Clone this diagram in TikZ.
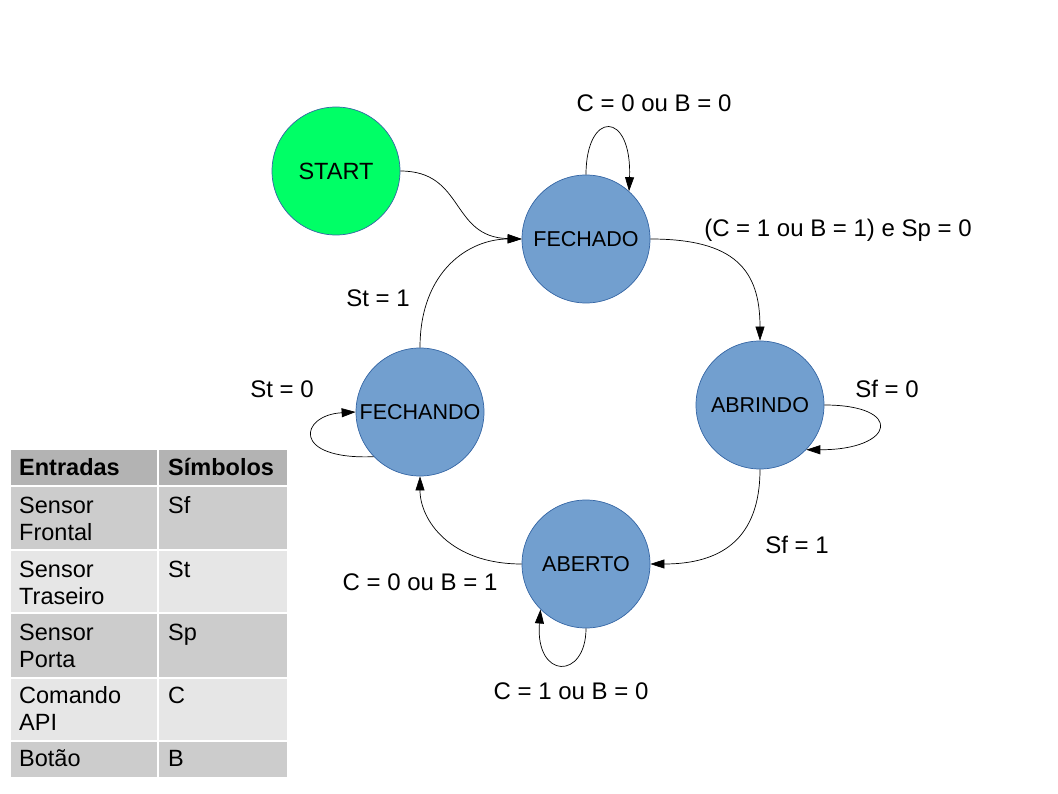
\documentclass[tikz,border=0pt]{standalone}
\usepackage{fontspec}
\setmainfont{Liberation Sans}
\usetikzlibrary{arrows.meta}
\definecolor{stategreen}{HTML}{00FF66}
\definecolor{stateblue}{HTML}{729FCF}
\definecolor{stateborder}{HTML}{3465A4}
\definecolor{thead}{HTML}{B3B3B3}
\definecolor{tdark}{HTML}{CCCCCC}
\definecolor{tlight}{HTML}{E6E6E6}
\tikzset{
  state/.style={circle, minimum size=128pt, inner sep=0pt, draw=stateborder, line width=0.7pt, fill=stateblue, font=\fontsize{21.5}{25}\selectfont},
  startstate/.style={state, fill=stategreen, font=\fontsize{23.5}{27}\selectfont},
  edge/.style={line width=0.7pt, -{Triangle[length=14pt,width=9pt]}},
  lbl/.style={font=\fontsize{24}{28}\selectfont, inner sep=0pt},
  ctext/.style={anchor=base west, inner sep=0pt, align=left, font=\fontsize{23.5}{27}\selectfont},
}
\begin{document}
\begin{tikzpicture}[x=1pt, y=-1pt]
\useasboundingbox (0,0) rectangle (1058,794);
% states
\node[startstate] (start) at (336,171) {START};
\node[state] (fechado) at (586,239) {FECHADO};
\node[state] (abrindo) at (760,405) {ABRINDO};
\node[state] (aberto) at (586,564) {ABERTO};
\node[state] (fechando) at (420,412) {FECHANDO};
% transitions
\draw[edge] (start.east) .. controls (465,171) and (450,237) .. (fechado.west);
\draw[edge] (fechado.90) .. controls (586,110) and (632,110) .. (fechado.48);
\draw[edge] (fechado.east) .. controls (735,239) and (760,270) .. (abrindo.north);
\draw[edge] (abrindo.east) .. controls (905,405) and (895,450) .. (abrindo.-44);
\draw[edge] (abrindo.south) .. controls (760,540) and (720,564) .. (aberto.east);
\draw[edge] (aberto.west) .. controls (450,564) and (420,520) .. (fechando.south);
\draw[edge] (aberto.-90) .. controls (586,680) and (535,680) .. (aberto.-135);
\draw[edge] (fechando.-136) .. controls (290,460) and (300,415) .. (fechando.west);
\draw[edge] (fechando.north) .. controls (420,270) and (470,239) .. (fechado.west);
% labels
\node[lbl] (l1) at (654,103) {C = 0 ou B = 0};
\node[lbl] (l2) at (838,230) {(C = 1 ou B = 1) e Sp = 0};
\node[lbl] (l3) at (887,389) {Sf = 0};
\node[lbl] (l4) at (797,545) {Sf = 1};
\node[lbl] (l5) at (420,582) {C = 0 ou B = 1};
\node[lbl] (l6) at (571,691) {C = 1 ou B = 0};
\node[lbl] (l7) at (282,389) {St = 0};
\node[lbl] (l8) at (378,298) {St = 1};
% table
\fill[thead] (11,450) rectangle (157,485);
\fill[thead] (159,450) rectangle (287,485);
\fill[tdark] (11,487) rectangle (157,549);
\fill[tdark] (159,487) rectangle (287,549);
\fill[tlight] (11,551) rectangle (157,612);
\fill[tlight] (159,551) rectangle (287,612);
\fill[tdark] (11,614) rectangle (157,677);
\fill[tdark] (159,614) rectangle (287,677);
\fill[tlight] (11,679) rectangle (157,740);
\fill[tlight] (159,679) rectangle (287,740);
\fill[tdark] (11,742) rectangle (157,777);
\fill[tdark] (159,742) rectangle (287,777);
\node[ctext, font=\fontsize{23.5}{27}\selectfont\bfseries] (h1) at (19,475) {Entradas};
\node[ctext, font=\fontsize{23.5}{27}\selectfont\bfseries] (h2) at (168,475) {Símbolos};
\node[ctext] (r1a) at (19,540) {Sensor\\Frontal};
\node[ctext] (r1b) at (168,513) {Sf};
\node[ctext] (r2a) at (19,604) {Sensor\\Traseiro};
\node[ctext] (r2b) at (168,577) {St};
\node[ctext] (r3a) at (19,667) {Sensor\\Porta};
\node[ctext] (r3b) at (168,640) {Sp};
\node[ctext] (r4a) at (19,730) {Comando\\API};
\node[ctext] (r4b) at (168,703) {C};
\node[ctext] (r5a) at (19,766) {Botão};
\node[ctext] (r5b) at (168,766) {B};
\end{tikzpicture}
\end{document}
